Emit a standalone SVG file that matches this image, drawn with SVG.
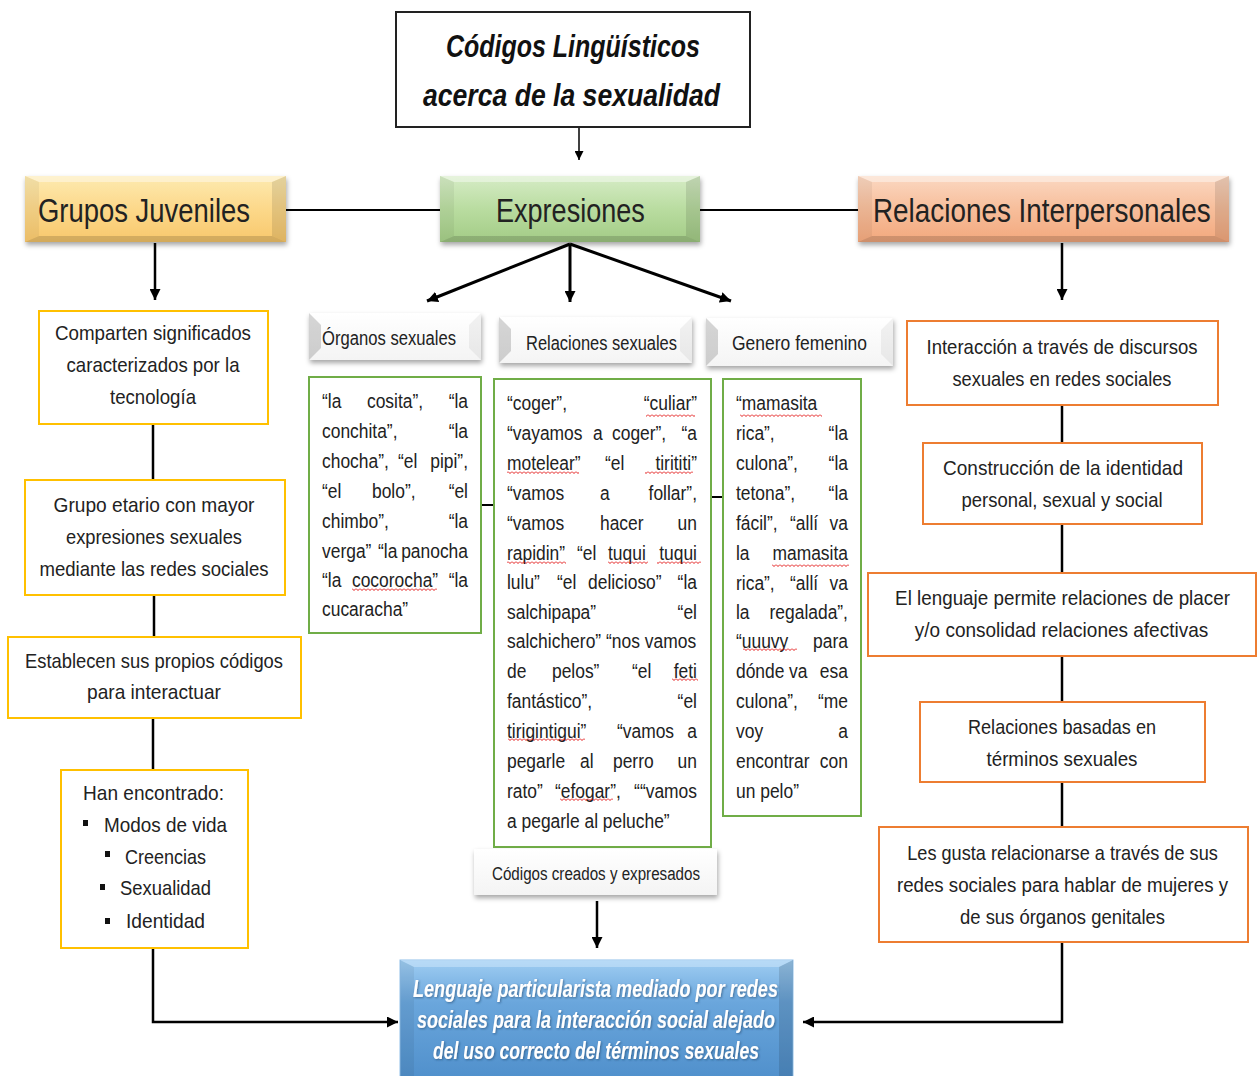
<svg xmlns="http://www.w3.org/2000/svg" width="1257" height="1076" viewBox="0 0 1257 1076">
<defs>
<style>
.t{font-family:"Liberation Sans",Arial,sans-serif;fill:#222}
.b{font-size:21px}
.c{text-anchor:middle}
.e{text-anchor:end}
.h{font-size:34px}
.s{font-size:20px}
.ti{font-size:31px;font-weight:bold;font-style:italic;fill:#111}
.fin{font-family:"Liberation Sans",Arial,sans-serif;font-size:24px;font-weight:bold;font-style:italic;fill:#fff}
.yb{fill:#fff;stroke:#ffc000;stroke-width:2}
.ob{fill:#fff;stroke:#ed7d31;stroke-width:2}
.gb{fill:#fff;stroke:#70ad47;stroke-width:2}
.ln{fill:none;stroke:#000;stroke-width:2.5}
.bt{fill:#fff;opacity:.4}
.bl{fill:#000;opacity:.05}
.br{fill:#000;opacity:.1}
.bb{fill:#000;opacity:.15}
.wl{fill:#000;opacity:.16}
.wr{fill:#000;opacity:.05}
.wv{fill:url(#wv)}
</style>
<linearGradient id="gY" x1="0" y1="0" x2="0" y2="1"><stop offset="0" stop-color="#fdeab0"/><stop offset=".5" stop-color="#fcd88a"/><stop offset="1" stop-color="#f8c86c"/></linearGradient>
<linearGradient id="gG" x1="0" y1="0" x2="0" y2="1"><stop offset="0" stop-color="#d6ecc6"/><stop offset=".5" stop-color="#b9dca0"/><stop offset="1" stop-color="#a3cc86"/></linearGradient>
<linearGradient id="gR" x1="0" y1="0" x2="0" y2="1"><stop offset="0" stop-color="#fbd8c2"/><stop offset=".5" stop-color="#f7be9b"/><stop offset="1" stop-color="#f3a87d"/></linearGradient>
<linearGradient id="gB" x1="0" y1="0" x2="0" y2="1"><stop offset="0" stop-color="#9fcdf2"/><stop offset=".35" stop-color="#6aa6dc"/><stop offset="1" stop-color="#4f8fcb"/></linearGradient>
<linearGradient id="gW" x1="0" y1="0" x2="0" y2="1"><stop offset="0" stop-color="#ffffff"/><stop offset="1" stop-color="#f4f4f4"/></linearGradient>
<filter id="sh" x="-10%" y="-20%" width="120%" height="160%"><feDropShadow dx="1" dy="3" stdDeviation="2.5" flood-color="#000" flood-opacity=".35"/></filter>
<filter id="tsh" x="-5%" y="-20%" width="110%" height="150%"><feDropShadow dx="1" dy="1" stdDeviation=".8" flood-color="#1c3f66" flood-opacity=".6"/></filter>
<marker id="ar" viewBox="0 0 10 10" refX="10" refY="5" markerWidth="11" markerHeight="11" markerUnits="userSpaceOnUse" orient="auto"><path d="M0,0 L10,5 L0,10 z" fill="#000"/></marker>
<marker id="ars" viewBox="0 0 10 10" refX="10" refY="5" markerWidth="9" markerHeight="9" markerUnits="userSpaceOnUse" orient="auto"><path d="M0,0 L10,5 L0,10 z" fill="#000"/></marker>
<pattern id="wv" width="4" height="3" patternUnits="userSpaceOnUse"><path d="M0,0.5 L2,2.5 L4,0.5" fill="none" stroke="#e00000" stroke-width=".9"/></pattern>
</defs>
<rect width="1257" height="1076" fill="#fff"/>

<g id="connectors">
<line class="ln" x1="579" y1="127" x2="579" y2="160" marker-end="url(#ars)" style="stroke-width:1.5"/>
<line class="ln" x1="286" y1="210" x2="440" y2="210" style="stroke-width:2"/>
<line class="ln" x1="700" y1="210" x2="858" y2="210" style="stroke-width:2"/>
<line class="ln" x1="155" y1="243" x2="155" y2="300" marker-end="url(#ar)"/>
<line class="ln" x1="1062" y1="243" x2="1062" y2="300" marker-end="url(#ar)"/>
<line class="ln" x1="570" y1="244" x2="427" y2="301" marker-end="url(#ar)" style="stroke-width:3"/>
<line class="ln" x1="570" y1="244" x2="570" y2="302" marker-end="url(#ar)" style="stroke-width:3"/>
<line class="ln" x1="570" y1="244" x2="731" y2="301" marker-end="url(#ar)" style="stroke-width:3"/>
<line class="ln" x1="153" y1="424" x2="153" y2="480"/>
<line class="ln" x1="154" y1="595" x2="154" y2="637"/>
<line class="ln" x1="153" y1="718" x2="153" y2="770"/>
<path class="ln" d="M153,948 V1022 H398" marker-end="url(#ar)"/>
<line class="ln" x1="1062" y1="405" x2="1062" y2="443"/>
<line class="ln" x1="1062" y1="524" x2="1062" y2="573"/>
<line class="ln" x1="1062" y1="656" x2="1062" y2="702"/>
<line class="ln" x1="1062" y1="782" x2="1062" y2="827"/>
<path class="ln" d="M1062,942 V1022 H803" marker-end="url(#ar)"/>
<line class="ln" x1="481" y1="505" x2="494" y2="505" style="stroke-width:2"/>
<line class="ln" x1="711" y1="497" x2="723" y2="497" style="stroke-width:2"/>
<line class="ln" x1="597" y1="901" x2="597" y2="948" marker-end="url(#ar)"/>
</g>

<g id="title">
<rect x="396" y="12" width="354" height="115" fill="#fff" stroke="#222" stroke-width="2"/>
<text class="t ti" x="446" y="57" textLength="254" lengthAdjust="spacingAndGlyphs">Códigos Lingüísticos</text>
<text class="t ti" x="423" y="106" textLength="297" lengthAdjust="spacingAndGlyphs">acerca de la sexualidad</text>
</g>

<g id="grupos-juveniles">
<rect x="25" y="176" width="261" height="66" fill="url(#gY)" filter="url(#sh)"/>
<polygon class="bt" points="25,176 286,176 272,182 39,182"/>
<polygon class="bl" points="25,176 39,182 39,236 25,242"/>
<polygon class="br" points="286,176 286,242 272,236 272,182"/>
<polygon class="bb" points="25,242 286,242 272,236 39,236"/>
<text class="t h" transform="translate(38 222) scale(0.8 1)" x="0" y="0" textLength="265" lengthAdjust="spacingAndGlyphs">Grupos Juveniles</text>
</g>

<g id="expresiones">
<rect x="440" y="176" width="260" height="66" fill="url(#gG)" filter="url(#sh)"/>
<polygon class="bt" points="440,176 700,176 686,182 454,182"/>
<polygon class="bl" points="440,176 454,182 454,236 440,242"/>
<polygon class="br" points="700,176 700,242 686,236 686,182"/>
<polygon class="bb" points="440,242 700,242 686,236 454,236"/>
<text class="t h" transform="translate(496 222) scale(0.8 1)" x="0" y="0" textLength="186" lengthAdjust="spacingAndGlyphs">Expresiones</text>
</g>

<g id="relaciones-interpersonales">
<rect x="858" y="176" width="371" height="66" fill="url(#gR)" filter="url(#sh)"/>
<polygon class="bt" points="858,176 1229,176 1215,182 872,182"/>
<polygon class="bl" points="858,176 872,182 872,236 858,242"/>
<polygon class="br" points="1229,176 1229,242 1215,236 1215,182"/>
<polygon class="bb" points="858,242 1229,242 1215,236 872,236"/>
<text class="t h" transform="translate(873 222) scale(0.8 1)" x="0" y="0" textLength="422" lengthAdjust="spacingAndGlyphs">Relaciones Interpersonales</text>
</g>

<g id="gj-1">
<rect class="yb" x="39" y="311" width="229" height="113"/>
<text class="t b c" x="153" y="340" textLength="196" lengthAdjust="spacingAndGlyphs">Comparten significados</text>
<text class="t b c" x="153" y="372" textLength="173" lengthAdjust="spacingAndGlyphs">caracterizados por la</text>
<text class="t b c" x="153" y="404" textLength="86" lengthAdjust="spacingAndGlyphs">tecnología</text>
</g>
<g id="gj-2">
<rect class="yb" x="25" y="480" width="260" height="115"/>
<text class="t b c" x="154" y="512" textLength="201" lengthAdjust="spacingAndGlyphs">Grupo etario con mayor</text>
<text class="t b c" x="154" y="544" textLength="176" lengthAdjust="spacingAndGlyphs">expresiones sexuales</text>
<text class="t b c" x="154" y="576" textLength="229" lengthAdjust="spacingAndGlyphs">mediante las redes sociales</text>
</g>
<g id="gj-3">
<rect class="yb" x="8" y="637" width="293" height="81"/>
<text class="t b c" x="154" y="668" textLength="258" lengthAdjust="spacingAndGlyphs">Establecen sus propios códigos</text>
<text class="t b c" x="154" y="699" textLength="134" lengthAdjust="spacingAndGlyphs">para interactuar</text>
</g>
<g id="gj-4">
<rect class="yb" x="61" y="770" width="187" height="178"/>
<text class="t b c" x="153.5" y="800" textLength="141" lengthAdjust="spacingAndGlyphs">Han encontrado:</text>
<rect x="83" y="820" width="5" height="6" fill="#111"/>
<text class="t b" x="104" y="832" textLength="123" lengthAdjust="spacingAndGlyphs">Modos de vida</text>
<rect x="105" y="851" width="5" height="6" fill="#111"/>
<text class="t b" x="125" y="864" textLength="81" lengthAdjust="spacingAndGlyphs">Creencias</text>
<rect x="100" y="884" width="5" height="6" fill="#111"/>
<text class="t b" x="120" y="895" textLength="91" lengthAdjust="spacingAndGlyphs">Sexualidad</text>
<rect x="105" y="918" width="5" height="6" fill="#111"/>
<text class="t b" x="126" y="928" textLength="79" lengthAdjust="spacingAndGlyphs">Identidad</text>
</g>

<g id="sub-organos">
<rect x="309" y="313" width="172" height="47" fill="url(#gW)" filter="url(#sh)"/>
<polygon class="wl" points="309,313 321,325 321,348 309,360"/>
<polygon class="wr" points="481,313 481,360 469,348 469,325"/>
<text class="t s" x="322" y="345" textLength="134" lengthAdjust="spacingAndGlyphs">Órganos sexuales</text>
</g>
<g id="sub-relaciones">
<rect x="499" y="317" width="193" height="46" fill="url(#gW)" filter="url(#sh)"/>
<polygon class="wl" points="499,317 511,329 511,351 499,363"/>
<polygon class="wr" points="692,317 692,363 680,351 680,329"/>
<text class="t s" x="526" y="350" textLength="151" lengthAdjust="spacingAndGlyphs">Relaciones sexuales</text>
</g>
<g id="sub-genero">
<rect x="706" y="318" width="187" height="48" fill="url(#gW)" filter="url(#sh)"/>
<polygon class="wl" points="706,318 718,330 718,354 706,366"/>
<polygon class="wr" points="893,318 893,366 881,354 881,330"/>
<text class="t s" x="732" y="350" textLength="135" lengthAdjust="spacingAndGlyphs">Genero femenino</text>
</g>

<g id="box-organos">
<rect class="gb" x="309" y="377" width="172" height="256"/>
<g class="t b" transform="translate(322 0) scale(0.83 1)">
<text x="0" y="408">“la</text><text x="54.2" y="408">cosita”,</text><text class="e" x="175.9" y="408">“la</text>
<text x="0" y="438">conchita”,</text><text class="e" x="175.9" y="438">“la</text>
<text x="0" y="468">chocha”,</text><text x="91.6" y="468">“el</text><text class="e" x="175.9" y="468">pipi”,</text>
<text x="0" y="498">“el</text><text x="60.2" y="498">bolo”,</text><text class="e" x="175.9" y="498">“el</text>
<text x="0" y="528">chimbo”,</text><text class="e" x="175.9" y="528">“la</text>
<text x="0" y="558">verga”</text><text x="67.5" y="558">“la</text><text class="e" x="175.9" y="558">panocha</text>
<text x="0" y="587">“la</text><text x="36.1" y="587">cocorocha”</text><text class="e" x="175.9" y="587">“la</text>
<text x="0" y="616">cucaracha”</text>
</g>
<rect class="wv" x="352" y="588" width="85" height="3"/>
</g>

<g id="box-relaciones">
<rect class="gb" x="494" y="379" width="217" height="468"/>
<g class="t b" transform="translate(507 0) scale(0.83 1)">
<text x="0" y="410">“coger”,</text><text class="e" x="228.9" y="410">“culiar”</text>
<text x="0" y="440">“vayamos</text><text x="103.6" y="440">a</text><text x="126.5" y="440">coger”,</text><text class="e" x="228.9" y="440">“a</text>
<text x="0" y="470">motelear”</text><text x="118.1" y="470">“el</text><text class="e" x="228.9" y="470">tirititi”</text>
<text x="0" y="500">“vamos</text><text x="112" y="500">a</text><text class="e" x="228.9" y="500">follar”,</text>
<text x="0" y="530">“vamos</text><text x="112" y="530">hacer</text><text class="e" x="228.9" y="530">un</text>
<text x="0" y="560">rapidin”</text><text x="84.3" y="560">“el</text><text x="121.7" y="560">tuqui</text><text class="e" x="228.9" y="560">tuqui</text>
<text x="0" y="589">lulu”</text><text x="60.2" y="589">“el</text><text x="97.6" y="589">delicioso”</text><text class="e" x="228.9" y="589">“la</text>
<text x="0" y="619">salchipapa”</text><text class="e" x="228.9" y="619">“el</text>
<text x="0" y="648" textLength="228" lengthAdjust="spacing">salchichero” “nos vamos</text>
<text x="0" y="678">de</text><text x="54.2" y="678">pelos”</text><text x="150.6" y="678">“el</text><text class="e" x="228.9" y="678">feti</text>
<text x="0" y="708">fantástico”,</text><text class="e" x="228.9" y="708">“el</text>
<text x="0" y="738">tirigintigui”</text><text x="132.5" y="738">“vamos</text><text class="e" x="228.9" y="738">a</text>
<text x="0" y="768">pegarle</text><text x="88" y="768">al</text><text x="127.7" y="768">perro</text><text class="e" x="228.9" y="768">un</text>
<text x="0" y="798">rato”</text><text x="57.8" y="798">“efogar”,</text><text class="e" x="228.9" y="798">““vamos</text>
<text x="0" y="828">a pegarle al peluche”</text>
</g>
<rect class="wv" x="646" y="414" width="49" height="3"/>
<rect class="wv" x="507" y="471" width="72" height="3"/>
<rect class="wv" x="645" y="471" width="48" height="3"/>
<rect class="wv" x="507" y="561" width="59" height="3"/>
<rect class="wv" x="608" y="561" width="40" height="3"/>
<rect class="wv" x="657" y="561" width="44" height="3"/>
<rect class="wv" x="672" y="678" width="26" height="3"/>
<rect class="wv" x="508" y="738" width="77" height="3"/>
<rect class="wv" x="560" y="798" width="53" height="3"/>
</g>

<g id="box-genero">
<rect class="gb" x="723" y="379" width="138" height="437"/>
<g class="t b" transform="translate(736 0) scale(0.83 1)">
<text x="0" y="410">“mamasita</text>
<text x="0" y="440">rica”,</text><text class="e" x="134.9" y="440">“la</text>
<text x="0" y="470">culona”,</text><text class="e" x="134.9" y="470">“la</text>
<text x="0" y="500">tetona”,</text><text class="e" x="134.9" y="500">“la</text>
<text x="0" y="530">fácil”,</text><text x="65.1" y="530">“allí</text><text class="e" x="134.9" y="530">va</text>
<text x="0" y="560">la</text><text class="e" x="134.9" y="560">mamasita</text>
<text x="0" y="590">rica”,</text><text x="65.1" y="590">“allí</text><text class="e" x="134.9" y="590">va</text>
<text x="0" y="619">la</text><text class="e" x="134.9" y="619">regalada”,</text>
<text x="0" y="648">“uuuvy</text><text class="e" x="134.9" y="648">para</text>
<text x="0" y="678">dónde</text><text x="64" y="678">va</text><text class="e" x="134.9" y="678">esa</text>
<text x="0" y="708">culona”,</text><text class="e" x="134.9" y="708">“me</text>
<text x="0" y="738">voy</text><text class="e" x="134.9" y="738">a</text>
<text x="0" y="768">encontrar</text><text class="e" x="134.9" y="768">con</text>
<text x="0" y="798">un pelo”</text>
</g>
<rect class="wv" x="740" y="414" width="82" height="3"/>
<rect class="wv" x="772" y="564" width="77" height="3"/>
<rect class="wv" x="743" y="648" width="54" height="3"/>
</g>

<g id="codigos-creados">
<rect x="474" y="849" width="243" height="46" fill="url(#gW)" filter="url(#sh)"/>
<text class="t" x="492" y="880" font-size="18" textLength="208" lengthAdjust="spacingAndGlyphs">Códigos creados y expresados</text>
</g>

<g id="ri-1">
<rect class="ob" x="907" y="321" width="311" height="84"/>
<text class="t b c" x="1062" y="354" textLength="271" lengthAdjust="spacingAndGlyphs">Interacción a través de discursos</text>
<text class="t b c" x="1062" y="386" textLength="219" lengthAdjust="spacingAndGlyphs">sexuales en redes sociales</text>
</g>
<g id="ri-2">
<rect class="ob" x="923" y="443" width="279" height="81"/>
<text class="t b c" x="1063" y="475" textLength="240" lengthAdjust="spacingAndGlyphs">Construcción de la identidad</text>
<text class="t b c" x="1062" y="507" textLength="201" lengthAdjust="spacingAndGlyphs">personal, sexual y social</text>
</g>
<g id="ri-3">
<rect class="ob" x="868" y="573" width="388" height="83"/>
<text class="t b c" transform="translate(1062.5 605) scale(0.9 1)" x="0" y="0" textLength="372" lengthAdjust="spacingAndGlyphs">El lenguaje permite relaciones de placer</text>
<text class="t b c" transform="translate(1061.5 637) scale(0.9 1)" x="0" y="0" textLength="326" lengthAdjust="spacingAndGlyphs">y/o consolidad relaciones afectivas</text>
</g>
<g id="ri-4">
<rect class="ob" x="920" y="702" width="285" height="80"/>
<text class="t b c" x="1062" y="734" textLength="188" lengthAdjust="spacingAndGlyphs">Relaciones basadas en</text>
<text class="t b c" x="1062" y="766" textLength="151" lengthAdjust="spacingAndGlyphs">términos sexuales</text>
</g>
<g id="ri-5">
<rect class="ob" x="879" y="827" width="369" height="115"/>
<text class="t b c" transform="translate(1062.5 860) scale(0.87 1)" x="0" y="0" textLength="357" lengthAdjust="spacingAndGlyphs">Les gusta relacionarse a través de sus</text>
<text class="t b c" transform="translate(1062.5 892) scale(0.89 1)" x="0" y="0" textLength="372" lengthAdjust="spacingAndGlyphs">redes sociales para hablar de mujeres y</text>
<text class="t b c" x="1062.5" y="924" textLength="205" lengthAdjust="spacingAndGlyphs">de sus órganos genitales</text>
</g>

<g id="resultado">
<rect x="400" y="960" width="393" height="122" fill="url(#gB)" stroke="#8fc0ea" stroke-width="1"/>
<polygon fill="#d6ecfc" opacity=".45" points="400,960 793,960 779,967 414,967"/>
<polygon fill="#000" opacity=".06" points="400,960 414,967 414,1082 400,1082"/>
<polygon fill="#000" opacity=".12" points="793,960 793,1082 779,1082 779,967"/>
<g filter="url(#tsh)">
<text class="fin" x="413" y="997" textLength="365" lengthAdjust="spacingAndGlyphs">Lenguaje particularista mediado por redes</text>
<text class="fin" x="417" y="1028" textLength="358" lengthAdjust="spacingAndGlyphs">sociales para la interacción social alejado</text>
<text class="fin" x="433" y="1059" textLength="326" lengthAdjust="spacingAndGlyphs">del uso correcto del términos sexuales</text>
</g>
</g>
</svg>
